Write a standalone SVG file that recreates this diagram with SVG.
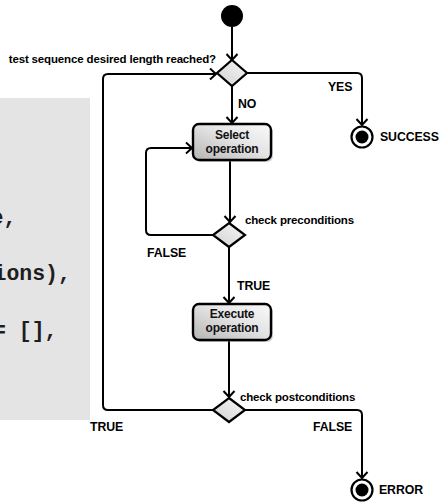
<svg xmlns="http://www.w3.org/2000/svg" width="441" height="502" viewBox="0 0 441 502">
  <defs>
    <linearGradient id="boxFill" x1="0" y1="1" x2="1" y2="0">
      <stop offset="0" stop-color="#b4b4b4"/>
      <stop offset="0.55" stop-color="#e4e4e4"/>
      <stop offset="1" stop-color="#fafafa"/>
    </linearGradient>
    <linearGradient id="decisionFill" x1="0" y1="1" x2="1" y2="0">
      <stop offset="0" stop-color="#d2d2d2"/>
      <stop offset="1" stop-color="#f6f6f6"/>
    </linearGradient>
    <marker id="open" markerUnits="userSpaceOnUse" markerWidth="14" markerHeight="14" viewBox="-8 -7 10 14" refX="0" refY="0" orient="auto">
      <path d="M-6,-5.5 L0,0 L-6,5.5" fill="none" stroke="#000" stroke-width="2"/>
    </marker>
  </defs>
  <style>
    .edge { fill: none; stroke: #000; stroke-width: 2; marker-end: url(#open); }
    .box { fill: url(#boxFill); stroke: #000; stroke-width: 2.4; }
    .shadow { fill: #9a9a9a; opacity: 0.45; }
    .decision { fill: url(#decisionFill); stroke: #000; stroke-width: 2.2; stroke-linejoin: miter; }
    .lbl { font-family: "Liberation Sans", Arial, sans-serif; font-weight: bold; fill: #000; }
    .small { font-size: 11.5px; letter-spacing: -0.15px; }
    .caps { font-size: 12.3px; letter-spacing: -0.1px; }
    .act { font-size: 12px; letter-spacing: -0.2px; text-anchor: middle; fill: #111; }
    .code { font-family: "Liberation Mono", "Courier New", monospace; font-weight: bold; font-size: 21.5px; fill: #1e1e1e; }
  </style>

  <!-- code panel on the left; its lines run past the left edge -->
  <g id="code-panel">
    <rect x="0" y="98" width="90" height="322" fill="#e4e4e4"/>
    <text class="code" x="-9.5" y="224">e,</text>
    <text class="code" x="-6.5" y="280">ions),</text>
    <text class="code" x="-7" y="337">= [],</text>
  </g>

  <!-- connectors -->
  <g id="connectors">
    <path class="edge" d="M232,27 V60"/>
    <path class="edge" d="M247,73 H357 Q362,73 362,78 V125"/>
    <path class="edge" d="M232,86 V123"/>
    <path class="edge" d="M230,161 V222"/>
    <path class="edge" d="M213,235 H151 Q146,235 146,230 V153 Q146,148 151,148 H192"/>
    <path class="edge" d="M229,247 V303"/>
    <path class="edge" d="M229,340 V397"/>
    <path class="edge" d="M213,410 H108 Q103,410 103,405 V79 Q103,74 108,74 H216"/>
    <path class="edge" d="M244,410 H357 Q362,410 362,415 V478"/>
  </g>

  <g id="start">
    <circle cx="232" cy="16" r="11" fill="#000"/>
  </g>

  <g id="length-check">
    <polygon class="decision" points="232,60 247,73 232,86 217,73"/>
    <text class="lbl small" x="216" y="63" text-anchor="end">test sequence desired length reached?</text>
    <text class="lbl caps" x="238" y="108">NO</text>
    <text class="lbl caps" x="328" y="91">YES</text>
  </g>

  <g id="success">
    <circle cx="362" cy="137" r="10.5" fill="#fff" stroke="#000" stroke-width="2.2"/>
    <circle cx="362" cy="137" r="6.5" fill="#000"/>
    <text class="lbl caps" x="380" y="141">SUCCESS</text>
  </g>

  <g id="select-operation">
    <rect class="shadow" x="195" y="126" width="78" height="36" rx="6"/>
    <rect class="box" x="193" y="124" width="78" height="36" rx="6"/>
    <text class="lbl act" x="232" y="139">Select</text>
    <text class="lbl act" x="232" y="153">operation</text>
  </g>

  <g id="precondition-check">
    <polygon class="decision" points="229,223 245,235 229,247 213,235"/>
    <text class="lbl small" x="245" y="224">check preconditions</text>
    <text class="lbl caps" x="147" y="257">FALSE</text>
    <text class="lbl caps" x="237" y="290">TRUE</text>
  </g>

  <g id="execute-operation">
    <rect class="shadow" x="195" y="306" width="78" height="36" rx="6"/>
    <rect class="box" x="193" y="304" width="78" height="36" rx="6"/>
    <text class="lbl act" x="232" y="318">Execute</text>
    <text class="lbl act" x="232" y="332">operation</text>
  </g>

  <g id="postcondition-check">
    <polygon class="decision" points="229,398 245,410 229,422 213,410"/>
    <text class="lbl small" x="240" y="401">check postconditions</text>
    <text class="lbl caps" x="313" y="431">FALSE</text>
    <text class="lbl caps" x="90" y="431">TRUE</text>
  </g>

  <g id="error">
    <circle cx="362" cy="490" r="10.5" fill="#fff" stroke="#000" stroke-width="2.2"/>
    <circle cx="362" cy="490" r="6.5" fill="#000"/>
    <text class="lbl caps" x="379" y="494">ERROR</text>
  </g>
</svg>
